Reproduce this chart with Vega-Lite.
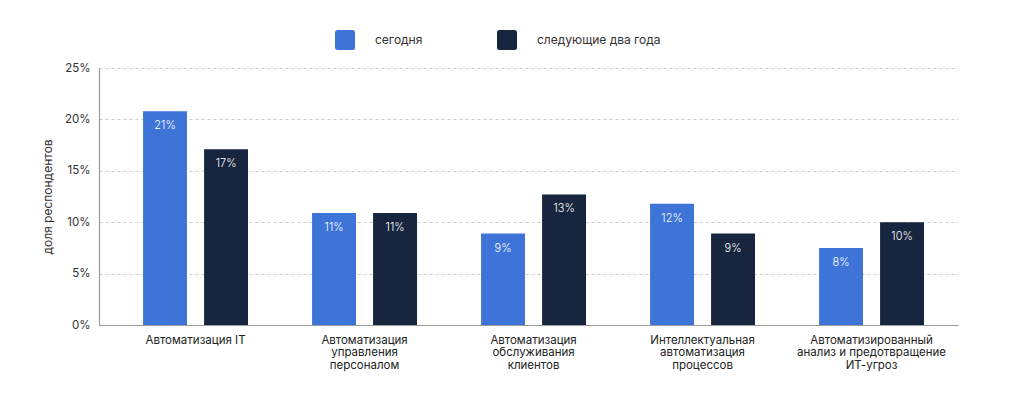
{
  "$schema": "https://vega.github.io/schema/vega-lite/v6.json",
  "width": 859,
  "height": 257,
  "padding": {"left": 41, "top": 30, "right": 5, "bottom": 5},
  "background": "white",
  "data": {
    "values": [
      {"category": "Автоматизация IT", "series": "сегодня", "value": 20.8, "label": "21%"},
      {"category": "Автоматизация IT", "series": "следующие два года", "value": 17.1, "label": "17%"},
      {"category": "Автоматизация|управления|персоналом", "series": "сегодня", "value": 10.9, "label": "11%"},
      {"category": "Автоматизация|управления|персоналом", "series": "следующие два года", "value": 10.9, "label": "11%"},
      {"category": "Автоматизация|обслуживания|клиентов", "series": "сегодня", "value": 8.9, "label": "9%"},
      {"category": "Автоматизация|обслуживания|клиентов", "series": "следующие два года", "value": 12.7, "label": "13%"},
      {"category": "Интеллектуальная|автоматизация|процессов", "series": "сегодня", "value": 11.8, "label": "12%"},
      {"category": "Интеллектуальная|автоматизация|процессов", "series": "следующие два года", "value": 8.9, "label": "9%"},
      {"category": "Автоматизированный|анализ и предотвращение|ИТ-угроз", "series": "сегодня", "value": 7.5, "label": "8%"},
      {"category": "Автоматизированный|анализ и предотвращение|ИТ-угроз", "series": "следующие два года", "value": 10.0, "label": "10%"}
    ]
  },
  "encoding": {
    "x": {
      "field": "category",
      "type": "nominal",
      "sort": null,
      "scale": {"paddingInner": 0, "paddingOuter": 0.0414, "align": 0.86},
      "axis": {
        "title": null,
        "labelAngle": 0,
        "labelExpr": "split(datum.label, '|')",
        "labelFontSize": 11.5,
        "labelColor": "#222222",
        "labelPadding": 9,
        "labelLineHeight": 12.5,
        "labelLimit": 300,
        "ticks": false,
        "domainColor": "#9a9a9a",
        "domainWidth": 1.2
      }
    },
    "xOffset": {
      "field": "series",
      "sort": ["сегодня", "следующие два года"],
      "scale": {"paddingInner": 0.28, "paddingOuter": 0.525}
    },
    "y": {
      "field": "value",
      "type": "quantitative",
      "scale": {"domain": [0, 25]},
      "axis": {
        "title": "доля респондентов",
        "titleFontSize": 12,
        "titleFontWeight": "normal",
        "titleColor": "#333333",
        "titlePadding": 10,
        "values": [0, 5, 10, 15, 20, 25],
        "labelExpr": "datum.value + '%'",
        "labelFontSize": 11.5,
        "labelColor": "#333333",
        "labelPadding": 9,
        "ticks": false,
        "grid": true,
        "gridDash": [3, 3],
        "gridColor": "#cccccc",
        "domainColor": "#9a9a9a",
        "domainWidth": 1.2
      }
    }
  },
  "layer": [
    {
      "mark": {"type": "bar"},
      "encoding": {
        "color": {
          "field": "series",
          "type": "nominal",
          "sort": ["сегодня", "следующие два года"],
          "scale": {"domain": ["сегодня", "следующие два года"], "range": ["#3e74d8", "#17253f"]},
          "legend": {
            "orient": "none",
            "legendX": 236,
            "legendY": -38,
            "direction": "horizontal",
            "title": null,
            "symbolType": "M -0.75 -1 L 0.75 -1 Q 1 -1 1 -0.75 L 1 0.75 Q 1 1 0.75 1 L -0.75 1 Q -1 1 -1 0.75 L -1 -0.75 Q -1 -1 -0.75 -1 Z",
            "symbolSize": 400,
            "symbolStrokeWidth": 0,
            "symbolOpacity": 1,
            "labelOffset": 20,
            "columnPadding": 74,
            "labelFontSize": 12,
            "labelColor": "#333333"
          }
        }
      }
    },
    {
      "mark": {"type": "text", "dy": 15, "color": "white", "fontSize": 11, "fontWeight": 300},
      "encoding": {"text": {"field": "label"}}
    }
  ],
  "config": {"font": "Inter", "view": {"stroke": null}}
}
